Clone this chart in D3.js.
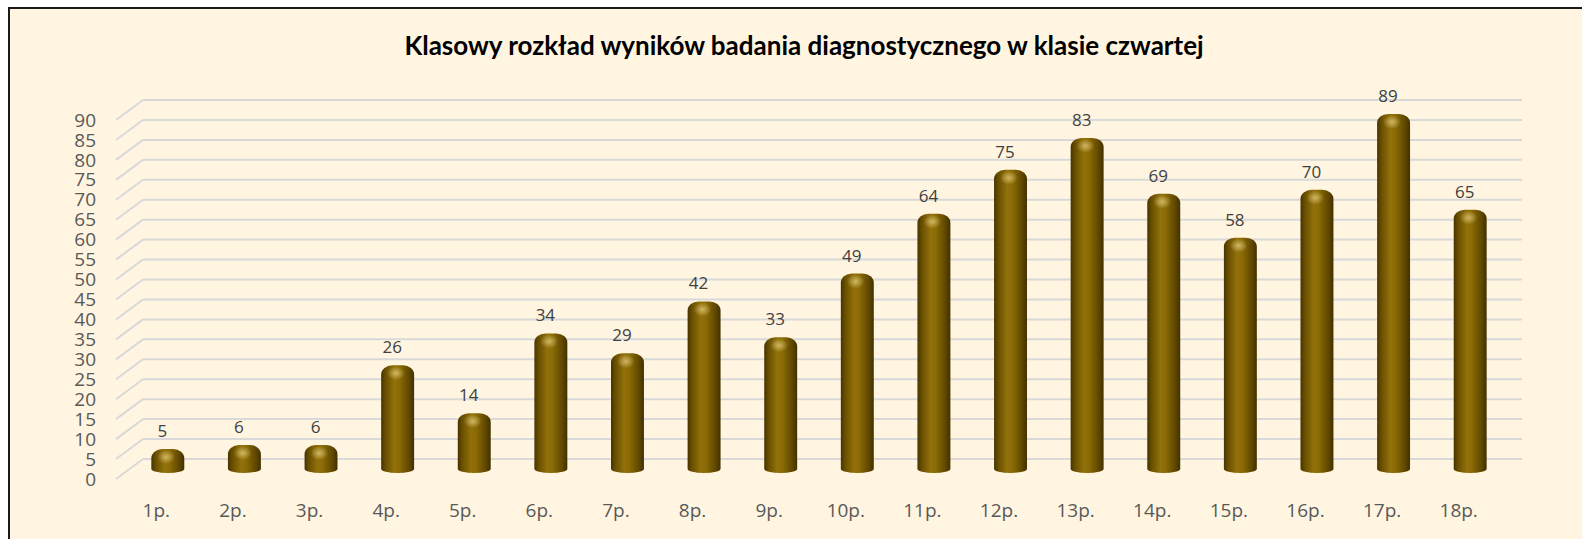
<!DOCTYPE html>
<html>
<head>
<meta charset="utf-8">
<script src="https://cdn.jsdelivr.net/npm/d3@7"></script>
<style>
  html, body { margin: 0; padding: 0; background: #fff; }
  svg { display: block; }
</style>
</head>
<body>
<div id="chart"></div>
<script>
const categories = ['1p.', '2p.', '3p.', '4p.', '5p.', '6p.', '7p.', '8p.', '9p.', '10p.',
  '11p.', '12p.', '13p.', '14p.', '15p.', '16p.', '17p.', '18p.'];
const scores = [5, 6, 6, 26, 14, 34, 29, 42, 33, 49, 64, 75, 83, 69, 58, 70, 89, 65];
const yTicks = d3.range(0, 95, 5);
const title = 'Klasowy rozkład wyników badania diagnostycznego w klasie czwartej';

const width = 1582, height = 539;
const depth = { dx: 27, dy: -20 }; // offset of the back wall vs the front plane
const mid = { dx: depth.dx / 2, dy: depth.dy / 2 };

const svg = d3.select('#chart').append('svg')
  .attr('width', width)
  .attr('height', height);

// background + frame
svg.append('rect')
  .attr('x', 0).attr('y', 0).attr('width', width).attr('height', height)
  .attr('fill', '#fff');
svg.append('rect')
  .attr('x', 9).attr('y', 8).attr('width', width + 20).attr('height', height + 20)
  .attr('fill', '#fff5e1')
  .attr('stroke', '#1a1a1a')
  .attr('stroke-width', 2);

const x = d3.scaleBand()
  .domain(categories)
  .range([116, 1495])
  .paddingInner(0.57)
  .paddingOuter(0.285);

const y = d3.scaleLinear()
  .domain([0, 90])
  .range([479, 120]);

// gradients for the cylinders
const defs = svg.append('defs');
const body = defs.append('linearGradient').attr('id', 'cyl')
  .attr('x1', '0%').attr('x2', '100%').attr('y1', '0%').attr('y2', '0%');
[['0%', '#463300'], ['12%', '#674d00'], ['40%', '#92710a'], ['55%', '#8b6b05'],
 ['85%', '#5f4700'], ['100%', '#423100']]
  .forEach(([o, c]) => body.append('stop').attr('offset', o).attr('stop-color', c));

const glow = defs.append('radialGradient').attr('id', 'glow');
glow.append('stop').attr('offset', '0%').attr('stop-color', '#e0c878').attr('stop-opacity', 0.8);
glow.append('stop').attr('offset', '100%').attr('stop-color', '#e0c878').attr('stop-opacity', 0);

// gridlines: back wall lines + left side wall diagonals
const grid = svg.append('g').attr('stroke', '#d9d9d9').attr('stroke-width', 2).attr('fill', 'none');
grid.selectAll('.back')
  .data(yTicks)
  .join('line')
  .attr('x1', 116 + depth.dx)
  .attr('x2', 1495 + depth.dx)
  .attr('y1', d => y(d) + depth.dy)
  .attr('y2', d => y(d) + depth.dy);
grid.selectAll('.side')
  .data(yTicks)
  .join('line')
  .attr('x1', 116)
  .attr('x2', 116 + depth.dx)
  .attr('y1', d => y(d))
  .attr('y2', d => y(d) + depth.dy);

// y axis labels
svg.append('g')
  .selectAll('text')
  .data(yTicks)
  .join('text')
  .attr('x', 96)
  .attr('y', d => y(d))
  .attr('dy', '0.35em')
  .attr('text-anchor', 'end')
  .attr('font-family', 'Open Sans, sans-serif')
  .attr('font-size', 19)
  .attr('fill', '#595959')
  .text(d => d);

// x axis labels
svg.append('g')
  .selectAll('text')
  .data(categories)
  .join('text')
  .attr('x', d => x(d) + x.bandwidth() / 2 + 2)
  .attr('y', 510)
  .attr('dy', '0.35em')
  .attr('text-anchor', 'middle')
  .attr('font-family', 'Open Sans, sans-serif')
  .attr('font-size', 19)
  .attr('fill', '#595959')
  .text(d => d);

// cylinders
const bw = x.bandwidth();
const base = y(0) + mid.dy;
function cylinder(d, i) {
  const x0 = x(categories[i]) + mid.dx, x1 = x0 + bw;
  const top = y(d) + mid.dy;
  const rx = 11, ry = 9;
  return `M${x0},${base} L${x0},${top + ry} A${rx},${ry} 0 0 1 ${x0 + rx},${top}` +
    ` L${x1 - rx},${top} A${rx},${ry} 0 0 1 ${x1},${top + ry} L${x1},${base}` +
    ` A${bw / 2},4 0 0 1 ${x0},${base} Z`;
}

const bars = svg.append('g');
bars.selectAll('path')
  .data(scores)
  .join('path')
  .attr('d', cylinder)
  .attr('fill', 'url(#cyl)');

bars.selectAll('ellipse')
  .data(scores)
  .join('ellipse')
  .attr('cx', (d, i) => x(categories[i]) + mid.dx + bw * 0.45)
  .attr('cy', d => y(d) + mid.dy + 8)
  .attr('rx', 9)
  .attr('ry', 7)
  .attr('fill', 'url(#glow)');

// value labels
svg.append('g')
  .selectAll('text')
  .data(scores)
  .join('text')
  .attr('x', (d, i) => x(categories[i]) + bw / 2 + 8)
  .attr('y', d => y(d) + mid.dy - 12)
  .attr('text-anchor', 'middle')
  .attr('font-family', 'Open Sans, sans-serif')
  .attr('font-size', 17)
  .attr('fill', '#404040')
  .text(d => d);

// title
svg.append('text')
  .attr('x', 804)
  .attr('y', 46)
  .attr('dy', '0.35em')
  .attr('text-anchor', 'middle')
  .attr('font-family', 'Lato, sans-serif')
  .attr('font-weight', 'bold')
  .attr('font-size', 26)
  .attr('fill', '#000')
  .text(title);
</script>
</body>
</html>
